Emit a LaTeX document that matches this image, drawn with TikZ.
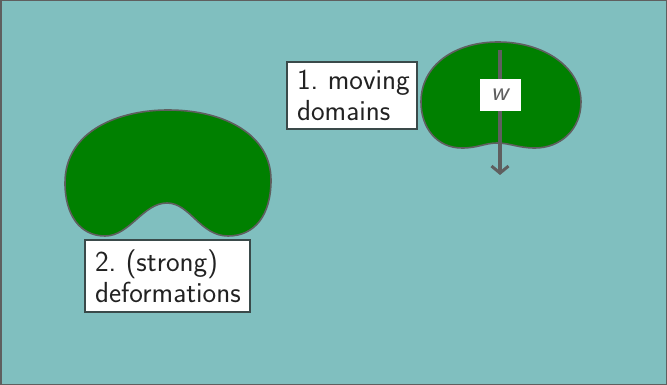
\documentclass[tikz,border=0pt]{standalone}
\usepackage{fontspec}
\usetikzlibrary{arrows.meta}
\definecolor{bgteal}{HTML}{80BFBF}
\definecolor{domaingreen}{HTML}{008000}
\definecolor{edgegray}{HTML}{5F5F5F}
\definecolor{boxedge}{HTML}{3A4A4A}
\definecolor{textdark}{HTML}{222222}
\frenchspacing
\begin{document}
\begin{tikzpicture}[x=1pt,y=-1pt,
  regionshape/.style={fill=domaingreen,draw=edgegray,line width=1.6pt},
  labelbox/.style={draw=boxedge,fill=white,line width=1.1pt,align=left,
    inner xsep=10pt,inner ysep=2pt,text=textdark,
    font=\sffamily\fontsize{29}{31}\selectfont},
  flow/.style={draw=edgegray,line width=3.6pt,
    -{Straight Barb[length=7pt,width=17pt,line width=3pt]}}]
  % background and frame
  \fill[bgteal] (0,0) rectangle (667,385);
  \draw[edgegray,line width=1.5pt] (0.75,0.75) rectangle (666.25,384.25);

  % large domain (deformed)
  \path[regionshape] (65,183) .. controls (65,130) and (120,110) .. (168,110)
    .. controls (225,110) and (271,135) .. (271,180)
    .. controls (271,215) and (255,236) .. (228,236)
    .. controls (200,236) and (190,203) .. (167,203)
    .. controls (143,203) and (130,236) .. (105,236)
    .. controls (80,236) and (65,215) .. (65,183) -- cycle;

  % small domain (moving)
  \path[regionshape] (421,102) .. controls (421,65) and (455,42) .. (498,42)
    .. controls (545,42) and (581,68) .. (581,102)
    .. controls (581,130) and (560,148) .. (535,148)
    .. controls (518,148) and (510,143) .. (497,143)
    .. controls (485,143) and (478,148) .. (462,148)
    .. controls (437,148) and (421,128) .. (421,102) -- cycle;

  % velocity arrow
  \coordinate (wstart) at (500,50);
  \coordinate (wend) at (500,175);
  \draw[flow] (wstart) -- (wend);
  \node[fill=white,minimum width=41pt,minimum height=32pt,inner sep=0pt,
    text=edgegray,font=\sffamily\fontsize{27}{30}\selectfont] (wlabel)
    at (500.5,95) {\textit{w}};

  % labels
  \node[labelbox,text width=110pt,minimum height=67pt] (moving) at (352,95.5)
    {\mbox{1. moving}\\\mbox{domains}};
  \node[labelbox,text width=145pt,minimum height=72pt] (deform) at (167.5,276)
    {\mbox{2. (strong)}\\\mbox{deformations}};
\end{tikzpicture}
\end{document}
